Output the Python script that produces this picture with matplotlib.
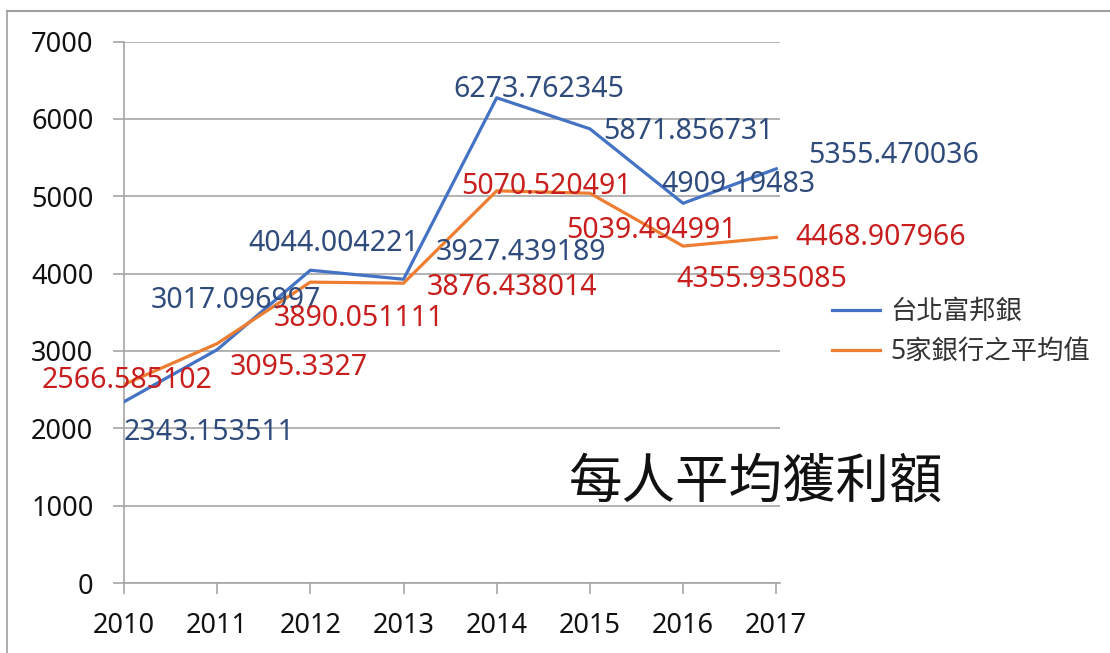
import matplotlib
matplotlib.use("Agg")
import matplotlib.pyplot as plt
from matplotlib.lines import Line2D

plt.rcParams['font.family'] = ['Noto Sans', 'Noto Sans CJK TC', 'DejaVu Sans']

years = ['2010', '2011', '2012', '2013', '2014', '2015', '2016', '2017']
fubon = [2343.153511, 3017.096997, 4044.004221, 3927.439189,
         6273.762345, 5871.856731, 4909.19483, 5355.470036]
avg5 = [2566.585102, 3095.3327, 3890.051111, 3876.438014,
        5070.520491, 5039.494991, 4355.935085, 4468.907966]
fubon_label = '台北富邦銀'
avg5_label = '5家銀行之平均值'
title = '每人平均獲利額'
yticks = [0, 1000, 2000, 3000, 4000, 5000, 6000, 7000]

# label offsets (pixels) for each data label: (dx, dy of text centre)
fubon_off = [(85, -28), (19, 52), (23, 29), (117, 29), (42, 11), (99, 0), (55, 21), (117, 16)]
avg5_off = [(3, 7), (82, -21), (48, -34), (108, -2), (50, 7), (62, -35), (79, -31), (104, 3)]

W, H = 1110, 653
fig = plt.figure(figsize=(W / 100, H / 100), dpi=100)
x0, x1 = 124, 780
y0, y1 = 583, 41.6
ax = fig.add_axes([x0 / W, 1 - y0 / H, (x1 - x0) / W, (y0 - y1) / H])

xs = list(range(len(years)))
blue = '#4472C4'
orange = '#ED7D31'
l1, = ax.plot(xs, fubon, color=blue, lw=2.3, solid_joinstyle='round', label=fubon_label, zorder=3)
l2, = ax.plot(xs, avg5, color=orange, lw=2.3, solid_joinstyle='round', label=avg5_label, zorder=3)

ax.set_xlim(0, 7.04)
ax.set_ylim(0, 7000)
ax.set_yticks(yticks)
ax.set_xticks(xs)
ax.set_xticklabels(years)
grid_c = '#a6a6a6'
ax.grid(axis='y', color=grid_c, lw=1.2, zorder=0)
for s in ['top', 'right']:
    ax.spines[s].set_visible(False)
for s in ['left', 'bottom']:
    ax.spines[s].set_color(grid_c)
    ax.spines[s].set_linewidth(1.2)
ax.tick_params(axis='both', direction='out', length=8, width=1.2, color=grid_c,
               labelsize=19.5, labelcolor='#111111')
ax.tick_params(axis='y', pad=14)
ax.tick_params(axis='x', pad=13)

lab_fs = 20.5
em = lab_fs * 100 / 72
base_shift = 0.357 * em
for i, (v, (dx, dy)) in enumerate(zip(fubon, fubon_off)):
    ax.annotate(f'{v}', xy=(i, v), xytext=(dx, dy - base_shift), textcoords='offset pixels',
                ha='center', va='baseline', fontsize=lab_fs, color='#2F4B7C', zorder=4)
for i, (v, (dx, dy)) in enumerate(zip(avg5, avg5_off)):
    ax.annotate(f'{v}', xy=(i, v), xytext=(dx, dy - base_shift), textcoords='offset pixels',
                ha='center', va='baseline', fontsize=lab_fs, color='#C81E1E', zorder=4)

fig.text(756.5 / W, 1 - 497.5 / H, title, ha='center', va='baseline', fontsize=38.5,
         color='#111111', family=['Noto Sans CJK TC'])

leg = fig.legend(handles=[l1, l2], loc='upper left',
                 bbox_to_anchor=(832 / W, 1 - 298 / H), frameon=False,
                 borderpad=0, borderaxespad=0, handlelength=1.82, handletextpad=0.38,
                 labelspacing=0.46, prop={'size': 19, 'family': ['Noto Sans', 'Noto Sans CJK TC']})
for t in leg.get_texts():
    t.set_color('#333333')

# chart outer border (cropped at right and bottom)
bc = '#a0a0a0'
fig.add_artist(Line2D([7 / W, 1], [1 - 10.5 / H, 1 - 10.5 / H], color=bc, lw=1.5, transform=fig.transFigure))
fig.add_artist(Line2D([7 / W, 7 / W], [0, 1 - 10.5 / H], color=bc, lw=1.2, transform=fig.transFigure))

fig.savefig('out.png', dpi=100)
